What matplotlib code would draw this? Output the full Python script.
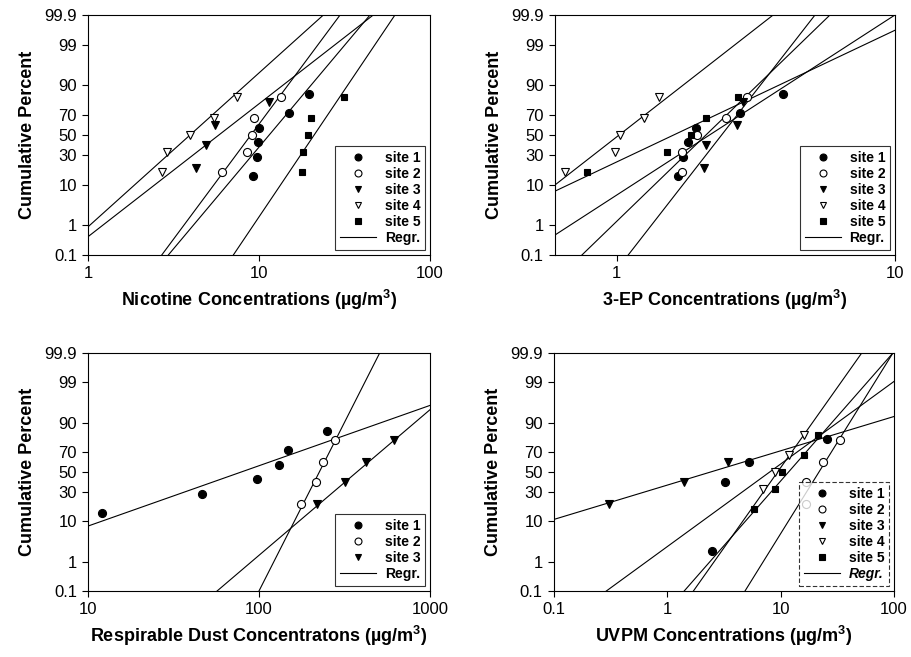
import numpy as np
import matplotlib
matplotlib.use("Agg")
import matplotlib.pyplot as plt
from matplotlib.lines import Line2D
from statistics import NormalDist

plt.rcParams['font.family'] = ['Liberation Sans', 'DejaVu Sans']
plt.rcParams['mathtext.fontset'] = 'custom'
plt.rcParams['mathtext.rm'] = 'Liberation Sans'
plt.rcParams['mathtext.bf'] = 'Liberation Sans:bold'
plt.rcParams['mathtext.default'] = 'bf'

# cumulative percent ticks (probability scale)
pct_ticks = [0.1, 1, 10, 30, 50, 70, 90, 99, 99.9]
pct_labels = ['0.1', '1', '10', '30', '50', '70', '90', '99', '99.9']

# ---- Nicotine (top left) ----
nic_x = [[9.2, 9.8, 9.9, 10.0, 15.0, 19.7],
         [6.1, 8.5, 9.1, 9.3, 13.4],
         [4.3, 4.9, 5.5, 11.4],
         [2.7, 2.9, 3.95, 5.45, 7.4],
         [17.8, 18.2, 19.3, 20.1, 31.4]]
nic_p = [[14.3, 28.6, 42.9, 57.1, 71.4, 85.7],
         [16.7, 33.3, 50, 66.7, 83.3],
         [20, 40, 60, 80],
         [16.7, 33.3, 50, 66.7, 83.3],
         [16.7, 33.3, 50, 66.7, 83.3]]
# regression lines read as two points each: (x1, pct1, x2, pct2)
nic_fit = [(2.95, 0.1, 44.6, 99.9),
           (2.70, 0.1, 29.8, 99.9),
           (1.0, 0.44, 46.6, 99.9),
           (1.0, 0.9, 23.8, 99.9),
           (7.08, 0.1, 62.4, 99.9)]

# ---- 3-EP (top right) ----
ep_x = [[1.66, 1.73, 1.80, 1.93, 2.78, 3.97],
        [1.71, 1.72, 1.94, 2.47, 2.95],
        [2.06, 2.09, 2.70, 2.84],
        [0.652, 0.986, 1.03, 1.256, 1.42],
        [0.78, 1.52, 1.85, 2.10, 2.72]]
ep_p = [[14.3, 28.6, 42.9, 57.1, 71.4, 85.7],
        [16.7, 33.3, 50, 66.7, 83.3],
        [20, 40, 60, 80],
        [16.7, 33.3, 50, 66.7, 83.3],
        [16.7, 33.3, 50, 66.7, 83.3]]
ep_fit = [(0.6, 0.5, 10, 99.9),
          (0.75, 0.1, 5.84, 99.9),
          (1.10, 0.1, 5.16, 99.9),
          (0.6, 9.9, 3.65, 99.9),
          (0.6, 7.4, 10, 99.65)]

# ---- Respirable dust (bottom left) ----
rd_x = [[12.0, 46.4, 97.8, 131, 148, 249],
        [177, 215, 236, 280],
        [218, 318, 422, 614]]
rd_p = [[14.3, 28.6, 42.9, 57.1, 71.4, 85.7],
        [20, 40, 60, 80],
        [20, 40, 60, 80]]
rd_fit = [(10, 8.0, 1000, 95.8),
          (100, 0.1, 508, 99.9),
          (56.9, 0.1, 1000, 94.7)]

# ---- UVPM (bottom right) ----
uv_x = [[2.49, 3.23, 5.26, 25.8],
        [16.6, 16.6, 23.5, 33.4],
        [0.305, 1.41, 3.45],
        [6.95, 8.93, 11.9, 16.2],
        [5.86, 8.93, 10.2, 16.1, 21.2]]
uv_p = [[2.0, 40, 60.6, 80.3],
        [20, 40, 60, 80],
        [20, 40, 60],
        [33.3, 50, 66.7, 83.3],
        [16.7, 33.3, 50, 66.7, 83.3]]
uv_fit = [(0.29, 0.1, 100, 99.06),
          (4.85, 0.1, 98, 99.9),
          (0.1, 10.9, 100, 92.5),
          (1.70, 0.1, 52, 99.9),
          (1.41, 0.1, 98, 99.9)]

site_names = ['site 1', 'site 2', 'site 3', 'site 4', 'site 5']
markers = [('o', 'black'), ('o', 'white'), ('v', 'black'), ('v', 'white'), ('s', 'black')]

nd = NormalDist()
_ppf = np.vectorize(nd.inv_cdf, otypes=[float])
_cdf = np.vectorize(nd.cdf, otypes=[float])


def pct_to_z(p):
    p = np.clip(np.asarray(p, dtype=float) / 100.0, 1e-12, 1 - 1e-12)
    return _ppf(p)


def z_to_pct(z):
    return _cdf(np.asarray(z, dtype=float)) * 100.0


def draw_panel(ax, xs, ps, fits, xlim, xticks, xlabel, dashed_legend=False, italic_regr=False):
    ax.set_xscale('log')
    ax.set_yscale('function', functions=(pct_to_z, z_to_pct))
    for i, (x, p) in enumerate(zip(xs, ps)):
        m, fc = markers[i]
        ax.plot(x, p, linestyle='none', marker=m, ms=5.8 if m != 's' else 5.0,
                mfc=fc, mec='black', mew=0.8, zorder=3)
    for (x1, p1, x2, p2) in fits:
        z1, z2 = pct_to_z([p1, p2])
        lx1, lx2 = np.log10(x1), np.log10(x2)
        s = (z2 - z1) / (lx2 - lx1)
        zz = np.array([-4.0, 4.0])
        lx = lx1 + (zz - z1) / s
        ax.plot(10 ** lx, z_to_pct(zz), color='black', lw=0.8, zorder=2)
    ax.set_xlim(*xlim)
    ax.set_ylim(0.1, 99.9)
    ax.set_yticks(pct_ticks)
    ax.set_yticklabels(pct_labels)
    ax.set_xticks(xticks)
    ax.set_xticklabels([('%g' % t) for t in xticks])
    ax.minorticks_off()
    ax.tick_params(direction='out', length=4, width=0.8, labelsize=12, pad=4)
    for sp in ax.spines.values():
        sp.set_linewidth(0.8)
    ax.set_xlabel(xlabel, fontsize=13, fontweight='bold', labelpad=5)
    ax.set_ylabel('Cumulative Percent', fontsize=13, fontweight='bold', labelpad=6)

    handles = []
    for i in range(len(xs)):
        m, fc = markers[i]
        handles.append(Line2D([], [], linestyle='none', marker=m, ms=5 if m != 's' else 4.4,
                              mfc=fc, mec='black', mew=0.8))
    handles.append(Line2D([], [], color='black', lw=0.8))
    labels = site_names[:len(xs)] + ['Regr.']
    leg = ax.legend(handles, labels, loc='lower right', frameon=True,
                    fancybox=False, edgecolor='black', handlelength=2.6,
                    handletextpad=0.6, labelspacing=0.15, borderpad=0.35,
                    borderaxespad=0.35, prop={'weight': 'bold', 'size': 10})
    leg.get_frame().set_linewidth(0.8)
    if dashed_legend:
        leg.get_frame().set_linestyle((0, (4, 2)))
    if italic_regr:
        leg.get_texts()[-1].set_fontstyle('italic')


fig = plt.figure(figsize=(9.11, 6.57), dpi=100)
ax1 = fig.add_axes([0.0966, 0.6119, 0.3754, 0.3653])
ax2 = fig.add_axes([0.6092, 0.6119, 0.3732, 0.3653])
ax3 = fig.add_axes([0.0966, 0.1005, 0.3754, 0.3623])
ax4 = fig.add_axes([0.6081, 0.1005, 0.3732, 0.3623])

draw_panel(ax1, nic_x, nic_p, nic_fit, (1, 100), [1, 10, 100],
           'Nicotine Concentrations (µg/m$^{3}$)')
draw_panel(ax2, ep_x, ep_p, ep_fit, (0.6, 10), [1, 10],
           '3-EP Concentrations (µg/m$^{3}$)')
draw_panel(ax3, rd_x, rd_p, rd_fit, (10, 1000), [10, 100, 1000],
           'Respirable Dust Concentratons (µg/m$^{3}$)')
draw_panel(ax4, uv_x, uv_p, uv_fit, (0.1, 100), [0.1, 1, 10, 100],
           'UVPM Concentrations (µg/m$^{3}$)', dashed_legend=True, italic_regr=True)

fig.savefig('out.png', dpi=100)
